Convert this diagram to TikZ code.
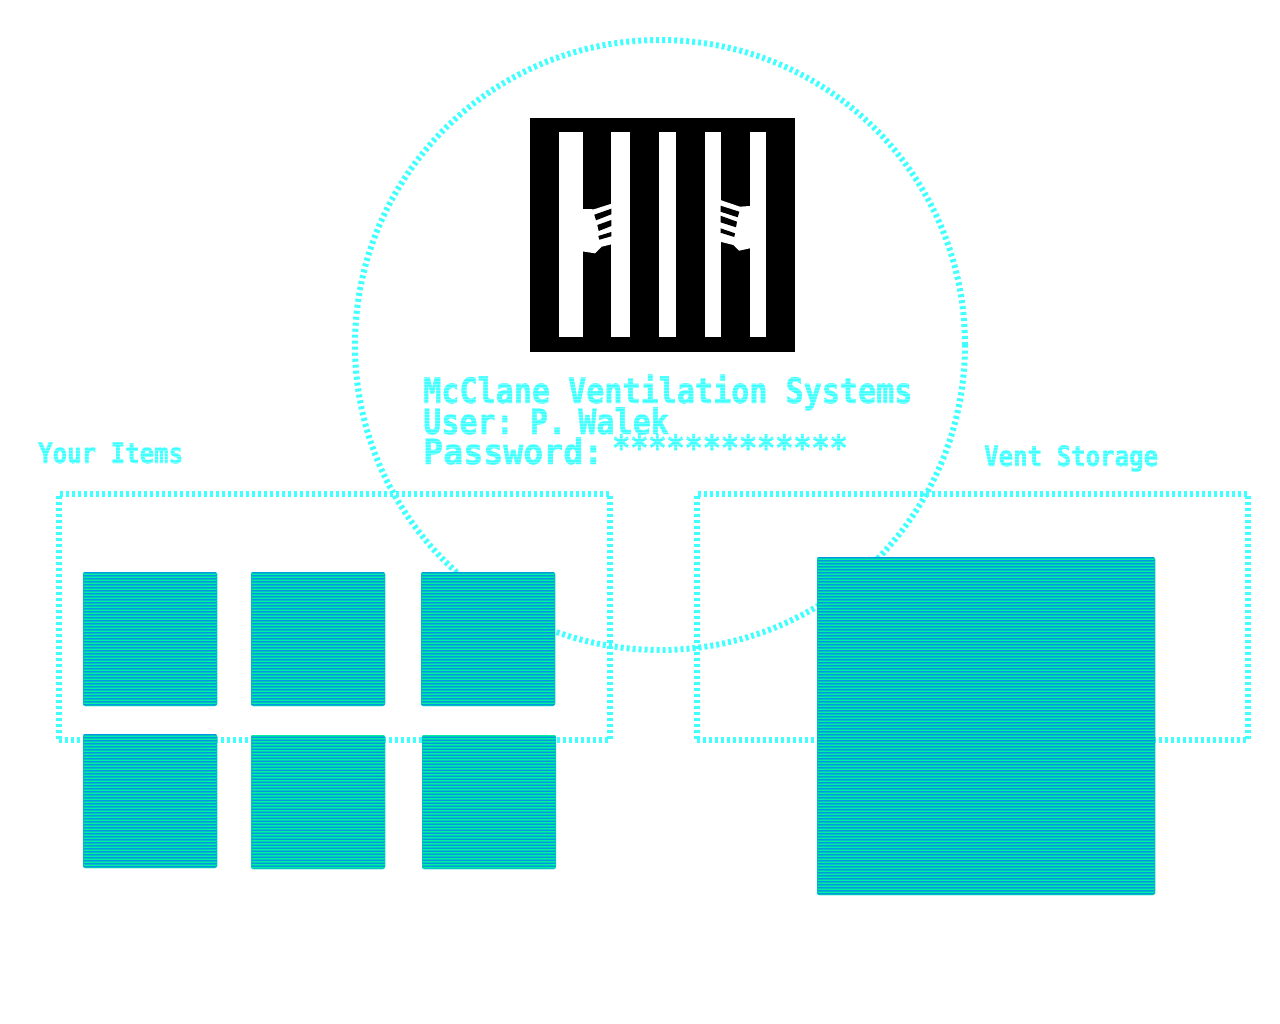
\documentclass[tikz,border=0pt]{standalone}
\usepackage{fontspec}
\usepackage{xcolor}
\newfontfamily\pixelfont[FakeStretch=.86,FakeBold=1.2]{DejaVu Sans Mono Bold}
\newfontfamily\pixelwide[FakeStretch=.95,FakeBold=1.2]{DejaVu Sans Mono Bold}
\definecolor{glow}{HTML}{40FFFF}
\definecolor{stripeblue}{HTML}{0098E0}
\definecolor{stripeteal}{HTML}{00C4C0}
\definecolor{stripegreen}{HTML}{00F0A0}
\tikzset{
  dotline/.style={draw=glow, line width=6pt, dash pattern=on 3pt off 3pt},
  panelbox/.style={dotline, inner sep=0pt, outer sep=0pt},
  slotbox/.style n args={3}{fill=stripeteal, rounded corners=2pt, inner sep=0pt, outer sep=0pt, minimum size=#1,
    path picture={
      \foreach \n in {0,3,...,#1} {
        \fill[#2] ([yshift=-\n pt]path picture bounding box.north west) rectangle ++(#1,1);
        \fill[#3] ([yshift=-\n pt-2pt]path picture bounding box.north west) rectangle ++(#1,1);
      }
    }},
  bluebox/.style={slotbox={134}{stripeblue}{stripegreen}},
  greenbox/.style={slotbox={134}{stripegreen}{stripeblue}},
  title/.style={anchor=base west, inner sep=0pt, text=glow, font=\pixelfont\fontsize{35}{35}\selectfont},
  caption/.style={anchor=base west, inner sep=0pt, text=glow, font=\pixelfont\fontsize{28}{28}\selectfont},
  scanline/.style={fill=white, opacity=.3}
}
\begin{document}
\begin{tikzpicture}[x=1pt, y=-1pt]
        \useasboundingbox (0,0) rectangle (1280,1024);

        % Draw the big circle and the two panels
        \node[circle, dotline, inner sep=0pt, outer sep=0pt, minimum size=610pt] (scanner) at (660,345) {};
        \node[panelbox, minimum width=551pt, minimum height=246pt] (itemspanel) at (334.5,617) {};
        \node[panelbox, minimum width=551pt, minimum height=246pt] (ventpanel) at (972.5,617) {};

        % Draw the item slots
        \node[bluebox] (slot1) at (150,639) {};
        \node[bluebox] (slot2) at (318,639) {};
        \node[bluebox] (slot3) at (488,639) {};
        \node[bluebox] (slot4) at (150,801) {};
        \node[greenbox] (slot5) at (318,802) {};
        \node[greenbox] (slot6) at (489,802) {};
        \node[slotbox={338}{stripeblue}{stripegreen}] (ventslot) at (986,726) {};

        % Draw the logo
        \fill[black] (530,118) rectangle (795,352);
        \fill[white] (559,132.5) rectangle (582.5,337.5);
        \fill[white] (611,132.5) rectangle (630,337.5);
        \fill[white] (659,132.5) rectangle (676,337.5);
        \fill[white] (704.5,132.5) rectangle (721,337.5);
        \fill[white] (749.5,132.5) rectangle (766,337.5);

        % Left hand with its finger gaps
        \fill[white] (582,209) -- (594,209.3) -- (611.5,203.7) -- (611.5,244.3) -- (601.7,246.7) -- (595,253.3) -- (582,251.3) -- cycle;
        \fill[black] (594.3,214.7) -- (611.3,208.7) -- (611.3,214.3) -- (596,220.3) -- cycle;
        \fill[black] (597.3,225) -- (611.3,220) -- (611.3,226) -- (598.7,231) -- cycle;
        \fill[black] (598.3,236) -- (611.3,232) -- (611.3,236.3) -- (599.3,239.7) -- cycle;

        % Right hand with its finger gaps
        \fill[white] (720.3,200) -- (740,206.7) -- (750,206) -- (750,248.3) -- (739,250.7) -- (733.3,245) -- (720.3,241.7) -- cycle;
        \fill[black] (720.5,205.7) -- (739.3,211.7) -- (737.7,217.3) -- (720.5,211.7) -- cycle;
        \fill[black] (720.5,215.7) -- (737,221.7) -- (736,227.3) -- (720.5,222.3) -- cycle;
        \fill[black] (720.5,228.3) -- (735,233.3) -- (734.3,237) -- (720.5,232.7) -- cycle;

        % Add labels
        \node[title] (company) at (423,403) {McClane Ventilation Systems};
        \node[title] (user) at (423,434) {User:\kern-8pt{} P.\kern-6pt{} Walek};
        \node[title, font=\pixelwide\fontsize{35}{35}\selectfont] (password) at (423,464) {Password:};
        \node[title] (stars) at (612,460) {*************};
        \node[caption] (itemslabel) at (38,463) {Your Items};
        \node[caption] (ventlabel) at (984,466) {Vent Storage};

        % Lay the scan lines over the labels
        \foreach \n in {0,3,...,96} {
            \fill[scanline] (420,375+\n) rectangle (915,376+\n);
        }
        \foreach \n in {0,3,...,27} {
            \fill[scanline] (35,441+\n) rectangle (186,442+\n);
            \fill[scanline] (980,444+\n) rectangle (1165,445+\n);
        }
    \end{tikzpicture}
\end{document}
